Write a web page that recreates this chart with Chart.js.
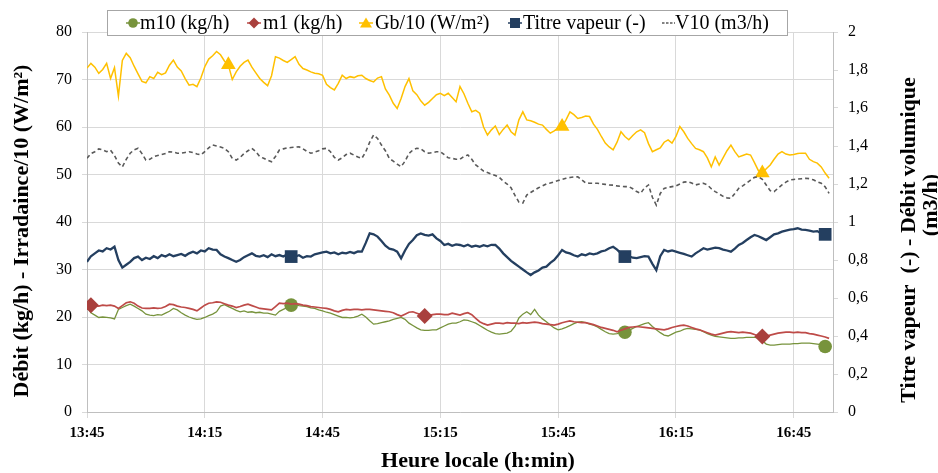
<!DOCTYPE html>
<html><head><meta charset="utf-8">
<script src="https://cdn.jsdelivr.net/npm/chart.js@4.4.1/dist/chart.umd.min.js"></script>
<style>html,body{margin:0;padding:0;background:#fff;}#wrap{width:938px;height:473px;}</style>
</head><body><div id="wrap"><canvas id="c" width="938" height="473"></canvas></div>
<script>
// ---- categories / ticks ----
const xTickValues = [0, 30, 60, 90, 120, 150, 180];           // minutes after 13:45
const xTickLabels = ['13:45', '14:15', '14:45', '15:15', '15:45', '16:15', '16:45'];
const leftTickValues = [0, 10, 20, 30, 40, 50, 60, 70, 80];
const rightTickValues = [0, 0.2, 0.4, 0.6, 0.8, 1, 1.2, 1.4, 1.6, 1.8, 2];
const rightTickLabels = ['0', '0,2', '0,4', '0,6', '0,8', '1', '1,2', '1,4', '1,6', '1,8', '2'];
const seriesLabels = ['m10 (kg/h)', 'm1 (kg/h)', 'Gb/10 (W/m²)', 'Titre vapeur (-)', 'V10 (m3/h)'];
const xTitle = 'Heure locale (h:min)';
const yTitle = 'Débit (kg/h) - Irradaince/10 (W/m²)';
const y1TitleLine1 = 'Titre vapeur  (-) - Débit volumique';
const y1TitleLine2 = '(m3/h)';

// ---- series (one value per minute, from 13:45) ----
const m10 = [
22.2,20.9,20.4,19.9,20.0,19.9,19.8,19.6,21.6,22.0,
22.4,22.7,22.3,21.8,21.3,20.6,20.4,20.3,20.5,20.4,
20.8,21.2,21.8,21.5,20.9,20.4,20.0,19.7,19.5,19.6,
19.9,20.3,20.6,21.1,22.3,22.6,22.2,21.8,21.4,21.1,
21.3,21.0,21.1,20.9,21.0,20.8,20.8,20.6,20.4,21.2,
21.6,22.0,22.5,22.6,22.4,22.3,22.2,21.9,21.8,21.5,
21.3,21.0,20.8,20.5,20.2,19.9,19.9,19.8,19.9,20.2,
20.6,20.0,19.2,18.5,18.6,18.8,19.0,19.2,19.5,19.7,
19.9,19.5,18.7,18.2,17.7,17.3,17.2,17.2,17.3,17.3,
17.7,18.1,18.5,18.7,18.7,19.0,19.4,19.3,19.0,18.7,
18.2,17.7,17.2,16.8,16.5,16.4,16.5,16.6,17.0,18.0,
19.8,20.6,21.1,20.5,21.6,20.4,19.6,19.0,18.3,17.7,
17.3,17.5,17.8,18.2,18.6,18.9,19.0,18.8,18.5,18.3,
17.9,17.4,16.9,16.5,16.4,16.5,16.7,16.8,17.2,17.6,
18.0,18.3,18.6,18.8,18.0,17.3,16.7,16.2,16.0,16.4,
16.8,17.0,17.4,17.6,17.5,17.4,17.3,16.9,16.5,16.2,
15.9,15.8,15.7,15.6,15.5,15.5,15.6,15.6,15.7,15.7,
15.7,15.6,15.0,14.3,14.1,14.1,14.2,14.3,14.3,14.3,
14.4,14.4,14.5,14.5,14.5,14.4,14.3,14.2,13.8,13.7];
const m1 = [
22.7,22.5,22.4,22.3,22.5,22.4,22.5,22.3,21.8,22.4,
23.0,23.2,22.9,22.3,21.9,21.8,21.8,21.9,21.8,21.9,
22.2,22.7,22.6,22.3,22.1,22.0,21.8,21.6,21.3,21.9,
22.5,22.9,23.0,23.2,23.1,22.8,22.5,22.3,22.0,22.2,
22.5,22.7,22.4,22.1,21.8,21.7,21.6,21.5,22.2,22.9,
22.8,22.9,22.7,22.8,22.7,22.5,22.4,22.2,22.1,22.0,
21.9,21.8,21.6,21.3,21.1,21.4,21.6,21.5,21.6,21.6,
21.5,21.6,21.6,21.5,21.4,21.3,21.2,21.1,20.9,20.5,
20.2,20.6,21.0,21.1,20.8,20.5,20.2,20.3,20.5,20.6,
20.6,20.5,20.5,20.8,20.6,20.4,20.7,20.9,20.5,19.7,
19.0,18.6,18.3,18.5,18.7,18.7,18.6,18.8,18.7,18.7,
18.6,18.8,18.7,18.8,18.9,18.8,18.6,18.5,18.4,18.3,
18.5,18.8,19.0,19.2,19.0,18.9,18.8,18.8,18.6,18.4,
18.1,17.8,17.6,17.4,17.2,16.9,17.2,17.5,17.8,17.9,
18.0,17.9,17.8,17.7,17.6,17.5,17.4,17.3,17.5,17.8,
18.0,18.2,18.3,18.1,17.8,17.5,17.3,17.0,16.7,16.4,
16.2,16.4,16.6,16.8,16.9,16.8,16.7,16.8,16.7,16.6,
16.3,16.0,15.9,16.0,16.2,16.4,16.6,16.7,16.8,16.8,
16.7,16.8,16.7,16.7,16.5,16.4,16.2,16.0,15.8,15.5];
const gb10 = [
72.4,73.4,72.6,71.3,72.1,73.4,70.2,72.5,66.5,74.0,
75.5,74.6,72.8,71.2,69.6,69.3,70.6,70.2,71.5,71.0,
71.4,73.0,74.1,72.6,71.8,70.2,68.8,69.0,68.5,70.3,
72.7,74.3,75.0,75.9,75.2,73.9,73.1,70.0,71.6,72.8,
73.6,74.1,72.6,71.4,70.2,69.4,68.7,70.8,74.8,74.5,
74.0,73.6,74.2,74.8,73.2,72.3,72.0,71.6,71.3,71.2,
70.9,69.0,68.3,67.8,69.2,70.9,70.2,70.6,70.4,70.8,
70.9,70.2,69.8,69.5,70.3,70.6,68.0,66.7,65.0,63.9,
66.0,68.5,70.2,67.6,66.8,65.5,64.6,65.2,66.0,66.8,
67.1,66.6,67.1,66.2,65.3,68.5,67.0,65.0,63.2,63.5,
62.9,60.0,58.3,59.4,60.2,58.4,59.5,60.4,59.0,58.3,
61.5,63.2,61.5,61.3,61.0,60.6,60.4,59.5,58.7,59.2,
59.8,60.1,61.5,63.2,62.6,61.8,62.0,62.3,62.2,60.6,
59.5,58.0,56.6,55.8,55.2,56.8,59.0,58.0,57.3,58.2,
59.0,59.4,58.8,56.5,54.8,55.2,55.6,56.8,57.3,56.6,
58.0,60.1,59.0,57.6,56.5,55.5,55.2,54.8,53.5,51.6,
53.7,52.0,53.5,55.0,56.2,54.8,53.7,54.0,54.3,54.1,
52.5,50.8,50.3,51.2,52.0,53.2,54.3,54.8,54.3,54.1,
54.2,54.4,54.5,54.5,53.2,52.7,52.4,51.6,50.3,49.2];
const titre = [
0.790,0.820,0.835,0.850,0.845,0.862,0.855,0.870,0.800,0.760,
0.775,0.790,0.810,0.818,0.800,0.812,0.805,0.820,0.810,0.826,
0.818,0.830,0.820,0.826,0.832,0.822,0.835,0.844,0.835,0.850,
0.845,0.862,0.855,0.853,0.830,0.818,0.810,0.800,0.791,0.800,
0.815,0.825,0.835,0.822,0.818,0.825,0.815,0.830,0.820,0.826,
0.818,0.830,0.818,0.818,0.825,0.812,0.820,0.818,0.830,0.835,
0.840,0.844,0.835,0.840,0.830,0.838,0.835,0.842,0.836,0.845,
0.844,0.890,0.940,0.935,0.923,0.900,0.875,0.860,0.855,0.844,
0.809,0.850,0.885,0.905,0.930,0.940,0.932,0.928,0.935,0.914,
0.900,0.879,0.885,0.875,0.882,0.879,0.872,0.880,0.870,0.875,
0.870,0.878,0.872,0.880,0.879,0.860,0.835,0.815,0.795,0.780,
0.765,0.750,0.735,0.721,0.735,0.745,0.760,0.765,0.785,0.800,
0.825,0.853,0.840,0.835,0.825,0.818,0.830,0.825,0.835,0.830,
0.835,0.845,0.850,0.862,0.870,0.855,0.835,0.818,0.820,0.812,
0.810,0.815,0.820,0.818,0.780,0.747,0.820,0.853,0.845,0.850,
0.844,0.838,0.832,0.825,0.818,0.835,0.848,0.862,0.855,0.860,
0.865,0.862,0.855,0.850,0.844,0.860,0.879,0.890,0.905,0.920,
0.932,0.925,0.915,0.905,0.920,0.935,0.940,0.949,0.955,0.960,
0.962,0.967,0.960,0.958,0.955,0.949,0.952,0.940,0.935,0.932];
const v10 = [
1.335,1.360,1.370,1.385,1.380,1.370,1.378,1.350,1.310,1.290,
1.330,1.362,1.380,1.388,1.360,1.326,1.330,1.344,1.350,1.355,
1.360,1.370,1.368,1.362,1.362,1.366,1.370,1.365,1.358,1.353,
1.370,1.390,1.405,1.400,1.395,1.388,1.370,1.335,1.326,1.340,
1.360,1.375,1.388,1.370,1.344,1.335,1.325,1.317,1.345,1.379,
1.385,1.390,1.392,1.394,1.396,1.385,1.372,1.362,1.368,1.375,
1.385,1.388,1.370,1.340,1.326,1.338,1.355,1.362,1.352,1.342,
1.335,1.370,1.420,1.458,1.440,1.405,1.375,1.335,1.320,1.305,
1.291,1.320,1.360,1.379,1.388,1.385,1.370,1.362,1.365,1.370,
1.370,1.355,1.338,1.335,1.330,1.330,1.345,1.353,1.330,1.300,
1.285,1.268,1.260,1.252,1.245,1.235,1.215,1.200,1.180,1.140,
1.105,1.100,1.142,1.155,1.168,1.180,1.190,1.200,1.205,1.212,
1.218,1.224,1.230,1.234,1.237,1.238,1.222,1.205,1.204,1.204,
1.204,1.200,1.198,1.195,1.194,1.190,1.188,1.186,1.186,1.175,
1.160,1.151,1.180,1.195,1.130,1.089,1.150,1.177,1.182,1.186,
1.190,1.200,1.210,1.212,1.205,1.195,1.200,1.204,1.195,1.175,
1.160,1.148,1.135,1.127,1.125,1.150,1.177,1.190,1.205,1.220,
1.235,1.238,1.225,1.195,1.165,1.160,1.178,1.195,1.210,1.221,
1.224,1.226,1.228,1.230,1.228,1.222,1.212,1.204,1.185,1.151];

// indices (minutes) where the reference shows a marker
const m10Markers = [52, 137, 188];
const m1Markers = [1, 86, 172];
const gbMarkers = [36, 121, 172];
const titreMarkers = [52, 137, 188];

const minutes = m10.map((_, i) => i);
const pts = arr => arr.map((v, i) => ({ x: minutes[i], y: v }));

const FONT = "'Liberation Serif', 'Times New Roman', serif";
const colors = { m10: '#77933C', m1: '#BE4B48', m1pt: '#A9403D', gb: '#FFC000', titre: '#243F60', v10: '#595959' };

const radiusAt = (list, r) => ctx => list.includes(ctx.dataIndex) ? r : 0;

const overlay = {
  id: 'overlay',
  afterDraw(chart) {
    const ctx = chart.ctx;
    ctx.save();
    // axis titles
    ctx.fillStyle = '#000';
    ctx.font = "bold 22px " + FONT;
    ctx.textAlign = 'center';
    ctx.textBaseline = 'middle';
    ctx.fillText(xTitle, 478, 461);
    ctx.save(); ctx.translate(22, 231); ctx.rotate(-Math.PI / 2); ctx.fillText(yTitle, 0, 0); ctx.restore();
    ctx.save(); ctx.translate(909, 240); ctx.rotate(-Math.PI / 2); ctx.fillText(y1TitleLine1, 0, 0); ctx.restore();
    ctx.save(); ctx.translate(931, 205); ctx.rotate(-Math.PI / 2); ctx.fillText(y1TitleLine2, 0, 0); ctx.restore();

    // legend box
    ctx.fillStyle = '#fff';
    ctx.fillRect(107.5, 10.5, 680, 25);
    ctx.strokeStyle = '#a6a6a6'; ctx.lineWidth = 1;
    ctx.strokeRect(107.5, 10.5, 680, 25);
    const ly = 23;
    const keys = [
      { cx: 133, tx: 140, kind: 'circle', color: colors.m10 },
      { cx: 254, tx: 263, kind: 'diamond', color: colors.m1pt, line: colors.m1 },
      { cx: 366, tx: 375, kind: 'triangle', color: colors.gb },
      { cx: 515, tx: 523, kind: 'square', color: colors.titre },
      { cx: 669, tx: 675, kind: 'dash', color: colors.v10 }
    ];
    keys.forEach((k, i) => {
      ctx.strokeStyle = k.line || k.color;
      ctx.fillStyle = k.color;
      if (k.kind === 'dash') {
        ctx.lineWidth = 1.5; ctx.setLineDash([2.5, 1.5]);
        ctx.beginPath(); ctx.moveTo(662, ly); ctx.lineTo(675, ly); ctx.stroke();
        ctx.setLineDash([]);
      } else {
        ctx.lineWidth = 1.5;
        ctx.beginPath(); ctx.moveTo(k.cx - 7, ly); ctx.lineTo(k.cx + 7, ly); ctx.stroke();
        ctx.beginPath();
        if (k.kind === 'circle') ctx.arc(k.cx, ly, 4.8, 0, Math.PI * 2);
        if (k.kind === 'diamond') { ctx.moveTo(k.cx, ly - 5.5); ctx.lineTo(k.cx + 5.5, ly); ctx.lineTo(k.cx, ly + 5.5); ctx.lineTo(k.cx - 5.5, ly); ctx.closePath(); }
        if (k.kind === 'triangle') { ctx.moveTo(k.cx, ly - 5.5); ctx.lineTo(k.cx + 6, ly + 4.5); ctx.lineTo(k.cx - 6, ly + 4.5); ctx.closePath(); }
        if (k.kind === 'square') ctx.rect(k.cx - 5, ly - 5, 10, 10);
        ctx.fill();
      }
      ctx.fillStyle = '#000';
      ctx.font = "20px " + FONT;
      ctx.textAlign = 'left';
      ctx.textBaseline = 'middle';
      ctx.fillText(seriesLabels[i], k.tx, ly + 1);
    });
    ctx.restore();
  }
};

new Chart(document.getElementById('c'), {
  type: 'line',
  data: {
    datasets: [
      { label: seriesLabels[0], data: pts(m10), yAxisID: 'y', order: 5,
        borderColor: colors.m10, borderWidth: 1.3, pointStyle: 'circle',
        pointRadius: radiusAt(m10Markers, 6.8), pointBackgroundColor: colors.m10, pointBorderColor: colors.m10, pointBorderWidth: 0 },
      { label: seriesLabels[1], data: pts(m1), yAxisID: 'y', order: 4,
        borderColor: colors.m1, borderWidth: 1.7, pointStyle: 'rectRot',
        pointRadius: radiusAt(m1Markers, 8), pointBackgroundColor: colors.m1pt, pointBorderColor: colors.m1pt, pointBorderWidth: 0 },
      { label: seriesLabels[2], data: pts(gb10), yAxisID: 'y', order: 3,
        borderColor: colors.gb, borderWidth: 1.5, pointStyle: 'triangle',
        pointRadius: radiusAt(gbMarkers, 8.5), pointBackgroundColor: colors.gb, pointBorderColor: colors.gb, pointBorderWidth: 0 },
      { label: seriesLabels[3], data: pts(titre), yAxisID: 'y1', order: 2,
        borderColor: colors.titre, borderWidth: 2.3, pointStyle: 'rect',
        pointRadius: radiusAt(titreMarkers, 9), pointBackgroundColor: colors.titre, pointBorderColor: colors.titre, pointBorderWidth: 0 },
      { label: seriesLabels[4], data: pts(v10), yAxisID: 'y1', order: 1,
        borderColor: colors.v10, borderWidth: 1.6, borderDash: [4, 3], pointRadius: 0 }
    ]
  },
  options: {
    responsive: false, animation: false, events: [],
    layout: { padding: { top: 32, left: 0, right: 0, bottom: 0 } },
    elements: { line: { tension: 0 } },
    plugins: { legend: { display: false }, tooltip: { enabled: false } },
    scales: {
      x: {
        type: 'linear', min: 0, max: 190,
        afterBuildTicks: s => { s.ticks = xTickValues.map(v => ({ value: v })); },
        afterFit: s => { s.height = 61; },
        grid: { color: '#d9d9d9', tickLength: 6, tickColor: '#d9d9d9' },
        border: { color: '#bfbfbf' },
        ticks: { autoSkip: false, maxRotation: 0, padding: 6, color: '#000',
          font: { family: FONT, size: 15, weight: 'bold' },
          callback: v => { const i = xTickValues.indexOf(v); return i >= 0 ? xTickLabels[i] : ''; } }
      },
      y: {
        position: 'left', min: 0, max: 80,
        afterBuildTicks: s => { s.ticks = leftTickValues.map(v => ({ value: v })); },
        afterFit: s => { s.width = 87; },
        grid: { color: '#d9d9d9', tickLength: 5, tickColor: '#d9d9d9' },
        border: { color: '#bfbfbf' },
        ticks: { padding: 10, color: '#000', font: { family: FONT, size: 16 } }
      },
      y1: {
        position: 'right', min: 0, max: 2,
        afterBuildTicks: s => { s.ticks = rightTickValues.map(v => ({ value: v })); },
        afterFit: s => { s.width = 105; },
        grid: { drawOnChartArea: false, tickLength: 5, color: '#d9d9d9', tickColor: '#d9d9d9' },
        border: { color: '#bfbfbf' },
        ticks: { padding: 10, color: '#000', font: { family: FONT, size: 16 },
          callback: v => { const i = rightTickValues.findIndex(t => Math.abs(t - v) < 1e-6); return i >= 0 ? rightTickLabels[i] : ''; } }
      }
    }
  },
  plugins: [overlay]
});
</script>
</body></html>
